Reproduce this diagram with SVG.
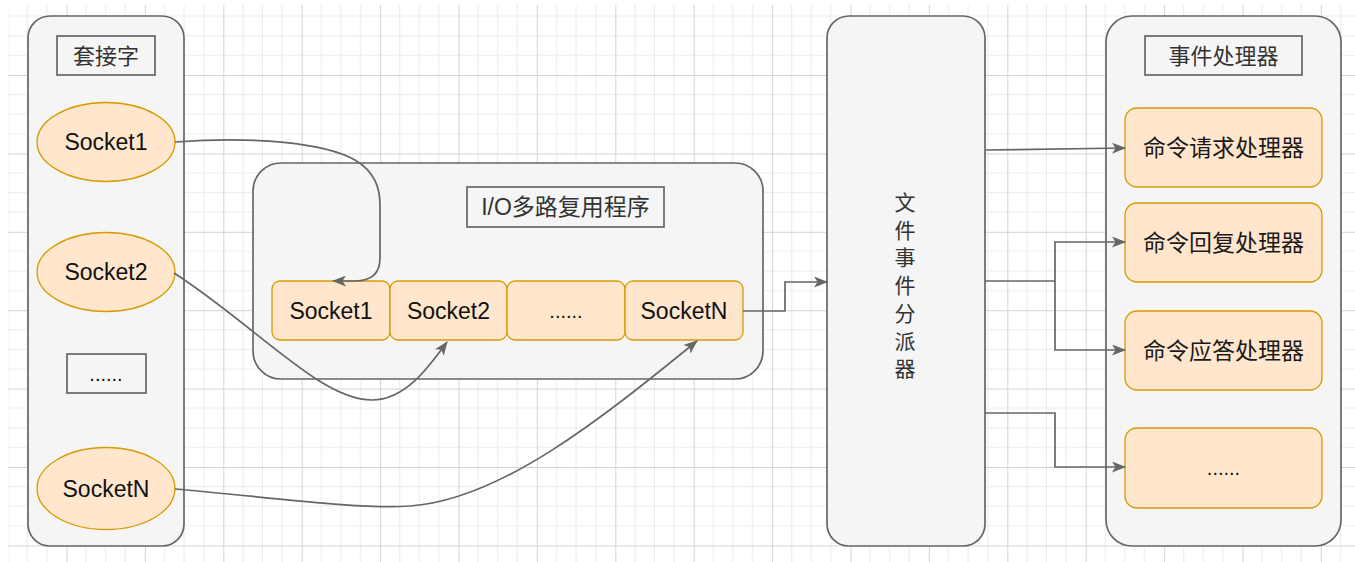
<svg xmlns="http://www.w3.org/2000/svg" width="1355" height="562" viewBox="0 0 1355 562">
<style>
.panel{fill:#f5f5f5;stroke:#666666;stroke-width:1.7}
.title{fill:#f5f5f5;stroke:#666666;stroke-width:1.7}
.orange{fill:#ffe6cc;stroke:#d79b00;stroke-width:1.3}
.lat{font-family:"Liberation Sans","Noto Sans CJK SC",sans-serif;font-size:23px;fill:#111111;text-anchor:middle}
.dots{font-family:"Liberation Sans",sans-serif;font-size:20px;fill:#111111;text-anchor:middle}
.cjk{font-family:"Noto Sans CJK SC",sans-serif;font-size:22px;fill:#1a1a1a;text-anchor:middle}
.tt{font-family:"Liberation Sans","Noto Sans CJK SC",sans-serif;font-size:22px;fill:#333333;text-anchor:middle}
.edge{fill:none;stroke:#666666;stroke-width:1.7}
</style>
<defs>
<pattern id="grid" patternUnits="userSpaceOnUse" x="66.5" y="75" width="78.4" height="78.4">
<rect width="78.4" height="78.4" fill="#ffffff"/>
<path d="M19.6 0V78.4M39.2 0V78.4M58.8 0V78.4M0 19.6H78.4M0 39.2H78.4M0 58.8H78.4" stroke="#ebebeb" stroke-width="1" fill="none"/>
<path d="M0.5 0V78.4M0 0.5H78.4" stroke="#d4d4d4" stroke-width="1" fill="none"/>
</pattern>
<marker id="arr" viewBox="0 0 14 11" refX="13" refY="5.5" markerWidth="14" markerHeight="11" markerUnits="userSpaceOnUse" orient="auto">
<path d="M0 0L14 5.5L0 11L3.5 5.5Z" fill="#666666"/>
</marker>
</defs>
<rect width="1355" height="562" fill="#ffffff"/>
<rect x="8" y="5" width="1347" height="557" fill="url(#grid)"/>

<g id="sockets-panel">
<rect class="panel" x="28" y="16" width="156" height="530" rx="22"/>
<rect class="title" x="57" y="36" width="98" height="39"/>
<text class="tt" x="106" y="64">套接字</text>
</g>
<g id="sock1">
<ellipse class="orange" cx="106" cy="142" rx="69" ry="39.5"/>
<text class="lat" x="106" y="150">Socket1</text>
</g>
<g id="sock2">
<ellipse class="orange" cx="106" cy="272" rx="69" ry="39.5"/>
<text class="lat" x="106" y="280">Socket2</text>
</g>
<g id="sock-more">
<rect class="title" x="67" y="354" width="79" height="39"/>
<text class="dots" x="106" y="381">......</text>
</g>
<g id="sockN">
<ellipse class="orange" cx="106" cy="488.5" rx="69" ry="41"/>
<text class="lat" x="106" y="497">SocketN</text>
</g>

<g id="io-panel">
<rect class="panel" x="253" y="163" width="510" height="216" rx="28"/>
<rect class="title" x="467" y="187" width="197" height="40"/>
<text class="tt" x="565.5" y="215" style="font-size:23px">I/O多路复用程序</text>
</g>
<g id="cell1">
<rect class="orange" x="272" y="281" width="118" height="59" rx="8"/>
<text class="lat" x="331" y="319">Socket1</text>
</g>
<g id="cell2">
<rect class="orange" x="390" y="281" width="117" height="59" rx="8"/>
<text class="lat" x="448.5" y="319">Socket2</text>
</g>
<g id="cell3">
<rect class="orange" x="507" y="281" width="118" height="59" rx="8"/>
<text class="dots" x="566" y="318">......</text>
</g>
<g id="cellN">
<rect class="orange" x="625" y="281" width="118" height="59" rx="8"/>
<text class="lat" x="684" y="319">SocketN</text>
</g>

<g id="dispatcher">
<rect class="panel" x="827" y="16" width="158" height="530" rx="22"/>
<text class="cjk" x="905" y="210" style="fill:#333333;font-size:21px"><tspan x="905" y="210">文</tspan><tspan x="905" y="237.7">件</tspan><tspan x="905" y="265.4">事</tspan><tspan x="905" y="293.1">件</tspan><tspan x="905" y="320.8">分</tspan><tspan x="905" y="348.5">派</tspan><tspan x="905" y="376.2">器</tspan></text>
</g>

<g id="handlers-panel">
<rect class="panel" x="1106" y="16" width="235" height="530" rx="26"/>
<rect class="title" x="1145" y="36" width="157" height="39"/>
<text class="tt" x="1223.5" y="64">事件处理器</text>
</g>
<g id="h-request">
<rect class="orange" x="1125" y="108" width="197" height="79" rx="12"/>
<text class="cjk" x="1223.5" y="156" style="font-size:23px">命令请求处理器</text>
</g>
<g id="h-reply">
<rect class="orange" x="1125" y="203" width="197" height="79" rx="12"/>
<text class="cjk" x="1223.5" y="251" style="font-size:23px">命令回复处理器</text>
</g>
<g id="h-answer">
<rect class="orange" x="1125" y="311" width="197" height="79" rx="12"/>
<text class="cjk" x="1223.5" y="359" style="font-size:23px">命令应答处理器</text>
</g>
<g id="h-more">
<rect class="orange" x="1125" y="428" width="197" height="80" rx="12"/>
<text class="dots" x="1223.5" y="475">......</text>
</g>

<g id="connectors">
<path class="edge" marker-end="url(#arr)" d="M175 142C255 136 325 143 355 160C375 172 380 188 380 205L380 258C380 274 371 281 355 281L333 281"/>
<path class="edge" marker-end="url(#arr)" d="M174 273C255 325 320 400 372 400C405 400 428 368 447 342"/>
<path class="edge" marker-end="url(#arr)" d="M175 489C260 496 360 510 410 506C500 500 600 420 697 341"/>
<path class="edge" marker-end="url(#arr)" d="M743 311H785V282H827"/>
<path class="edge" marker-end="url(#arr)" d="M985 150L1125 148"/>
<path class="edge" marker-end="url(#arr)" d="M985 281H1055V242H1125"/>
<path class="edge" marker-end="url(#arr)" d="M1055 281V350H1125"/>
<path class="edge" marker-end="url(#arr)" d="M985 413H1055V467H1125"/>
</g>
</svg>
